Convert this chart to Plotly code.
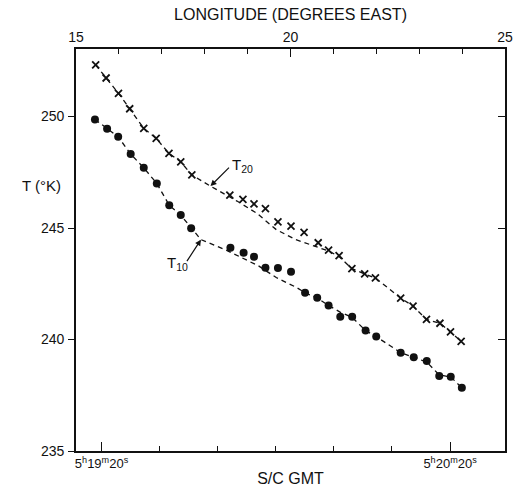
import plotly.graph_objects as go

# ---- data (time in seconds after 5h19m00s) ----
t20_time = [18.99, 20.79, 22.92, 24.85, 27.27, 29.41, 31.61, 33.64, 35.55, 42.09, 44.34, 46.25, 48.22,
            50.37, 52.62, 54.87, 57.30, 59.09, 60.90, 63.10, 65.30, 67.15, 71.50, 73.63, 75.94, 78.26,
            80.08, 81.91]
t20_vals = [252.32, 251.73, 251.04, 250.35, 249.47, 249.02, 248.35, 247.97, 247.38, 246.48, 246.29, 246.08,
            245.87, 245.28, 245.09, 244.81, 244.34, 244.01, 243.76, 243.18, 242.94, 242.76, 241.86, 241.50,
            240.90, 240.73, 240.34, 239.92]

t10_time = [18.87, 20.96, 22.87, 25.02, 27.27, 29.52, 31.66, 33.64, 35.43, 42.19, 44.46, 46.25, 48.22,
            50.37, 52.62, 55.04, 57.13, 59.09, 61.10, 63.15, 65.46, 67.29, 71.50, 73.75, 75.99, 78.14,
            80.12, 82.03]
t10_vals = [249.87, 249.45, 249.09, 248.32, 247.70, 247.00, 246.02, 245.58, 244.99, 244.12, 243.89, 243.71,
            243.22, 243.21, 243.04, 242.10, 241.87, 241.53, 241.02, 241.02, 240.40, 240.13, 239.41, 239.20,
            239.04, 238.36, 238.33, 237.84]

fit20_time = [18.99, 20.79, 22.92, 24.85, 27.27, 29.41, 31.61, 33.64, 35.55, 38.76, 43.32, 46.70, 50.08,
              53.46, 57.18, 59.09, 60.90, 63.10, 65.30, 67.15, 71.50, 73.63, 75.94, 78.26, 80.08, 81.91]
fit20_vals = [252.32, 251.73, 251.04, 250.35, 249.47, 249.02, 248.35, 247.97, 247.38, 246.88, 246.21, 245.67,
              244.93, 244.48, 244.15, 243.97, 243.72, 243.18, 242.94, 242.76, 241.86, 241.50, 240.90, 240.73,
              240.34, 239.92]

fit10_time = [18.87, 20.96, 22.87, 25.02, 27.27, 29.52, 31.66, 33.64, 35.43, 37.12, 41.63, 43.83, 47.04,
              50.08, 53.46, 55.04, 57.13, 59.09, 61.07, 63.15, 65.46, 67.29, 71.50, 73.75, 75.99, 78.14,
              80.12, 82.03]
fit10_vals = [249.87, 249.45, 249.09, 248.32, 247.70, 247.00, 246.02, 245.58, 244.99, 244.48, 243.99, 243.72,
              243.30, 242.78, 242.35, 242.10, 241.86, 241.53, 241.23, 240.99, 240.40, 240.13, 239.41, 239.20,
              238.99, 238.41, 238.32, 237.84]

time_ticks = [20, 80]
time_labels = ["5<sup>h</sup>19<sup>m</sup>20<sup>s</sup>", "5<sup>h</sup>20<sup>m</sup>20<sup>s</sup>"]
time_minor = [30, 40, 50, 60, 70]
lon_ticks = [15, 20, 25]
lon_labels = ["15", "20", "25"]
lon_minor = [16, 17, 18, 19, 21, 22, 23, 24]
temp_ticks = [235, 240, 245, 250]

FONT = "Liberation Sans"
BLACK = "#111111"

fig = go.Figure()
fig.add_trace(go.Scatter(x=fit20_time, y=fit20_vals, mode="lines",
                         line=dict(color=BLACK, width=1.3, dash="5px,4px"), hoverinfo="skip"))
fig.add_trace(go.Scatter(x=fit10_time, y=fit10_vals, mode="lines",
                         line=dict(color=BLACK, width=1.3, dash="5px,4px"), hoverinfo="skip"))
fig.add_trace(go.Scatter(x=t20_time, y=t20_vals, mode="markers",
                         marker=dict(symbol="x-thin", size=7, line=dict(color=BLACK, width=1.8))))
fig.add_trace(go.Scatter(x=t10_time, y=t10_vals, mode="markers",
                         marker=dict(symbol="circle", size=8, color=BLACK)))
# invisible traces to activate the top and right axes
fig.add_trace(go.Scatter(x=[15, 25], y=[240, 240], xaxis="x2", yaxis="y", mode="markers",
                         marker=dict(opacity=0), hoverinfo="skip"))
fig.add_trace(go.Scatter(x=[20, 80], y=[240, 240], xaxis="x", yaxis="y2", mode="markers",
                         marker=dict(opacity=0), hoverinfo="skip"))

# annotations: arrows and labels
fig.add_annotation(x=38.76, y=246.88, text="", showarrow=True, ax=20, ay=-20, arrowhead=2,
                   arrowsize=1, arrowwidth=1.2, arrowcolor=BLACK)
fig.add_annotation(x=38.76, y=246.88, text="T<sub>20</sub>", showarrow=False, xshift=32, yshift=21,
                   font=dict(family=FONT, size=15, color=BLACK))
fig.add_annotation(x=37.12, y=244.48, text="", showarrow=True, ax=-15, ay=23, arrowhead=2,
                   arrowsize=1, arrowwidth=1.2, arrowcolor=BLACK)
fig.add_annotation(x=37.12, y=244.48, text="T<sub>10</sub>", showarrow=False, xshift=-23, yshift=-24,
                   font=dict(family=FONT, size=15, color=BLACK))
fig.add_annotation(xref="paper", yref="paper", x=-0.03, y=0.687, text="T (°K)", showarrow=False,
                   xanchor="right", font=dict(family=FONT, size=15, color=BLACK))

fig.update_layout(
    width=515, height=487,
    margin=dict(l=76, r=2, t=49, b=36),
    paper_bgcolor="white", plot_bgcolor="white",
    showlegend=False,
    font=dict(family=FONT, size=14, color=BLACK),
    xaxis=dict(range=[15.606, 89.46], tickvals=time_ticks, ticktext=time_labels,
               ticks="inside", ticklen=9, tickwidth=1.3, tickcolor=BLACK,
               minor=dict(tickvals=time_minor, ticks="inside", ticklen=5, tickwidth=1.3, tickcolor=BLACK),
               showline=True, linecolor=BLACK, linewidth=1.6, showgrid=False, zeroline=False,
               tickfont=dict(family=FONT, size=13), ticklabelstandoff=0,
               title=dict(text="S/C GMT", font=dict(family=FONT, size=16), standoff=2)),
    xaxis2=dict(overlaying="x", side="top", range=[15, 25], tickvals=lon_ticks, ticktext=lon_labels,
                ticks="inside", ticklen=8, tickwidth=1.3, tickcolor=BLACK,
                minor=dict(tickvals=lon_minor, ticks="inside", ticklen=5, tickwidth=1.3, tickcolor=BLACK),
                showline=True, linecolor=BLACK, linewidth=1.6, showgrid=False, zeroline=False,
                ticklabeloverflow="allow", tickfont=dict(family=FONT, size=14),
                title=dict(text="LONGITUDE (DEGREES EAST)", font=dict(family=FONT, size=16), standoff=4)),
    yaxis=dict(range=[235, 253.03], tickvals=temp_ticks, ticks="outside", ticklen=6, tickwidth=1.3,
               tickcolor=BLACK, showline=True, linecolor=BLACK, linewidth=1.6, showgrid=False,
               zeroline=False, tickfont=dict(family=FONT, size=14), ticklabelstandoff=1),
    yaxis2=dict(overlaying="y", side="right", range=[235, 253.03], tickvals=temp_ticks[1:],
                ticks="inside", ticklen=7, tickwidth=1.3, tickcolor=BLACK, showticklabels=False,
                showline=True, linecolor=BLACK, linewidth=1.6, showgrid=False, zeroline=False),
)

fig.write_html("out.html")
